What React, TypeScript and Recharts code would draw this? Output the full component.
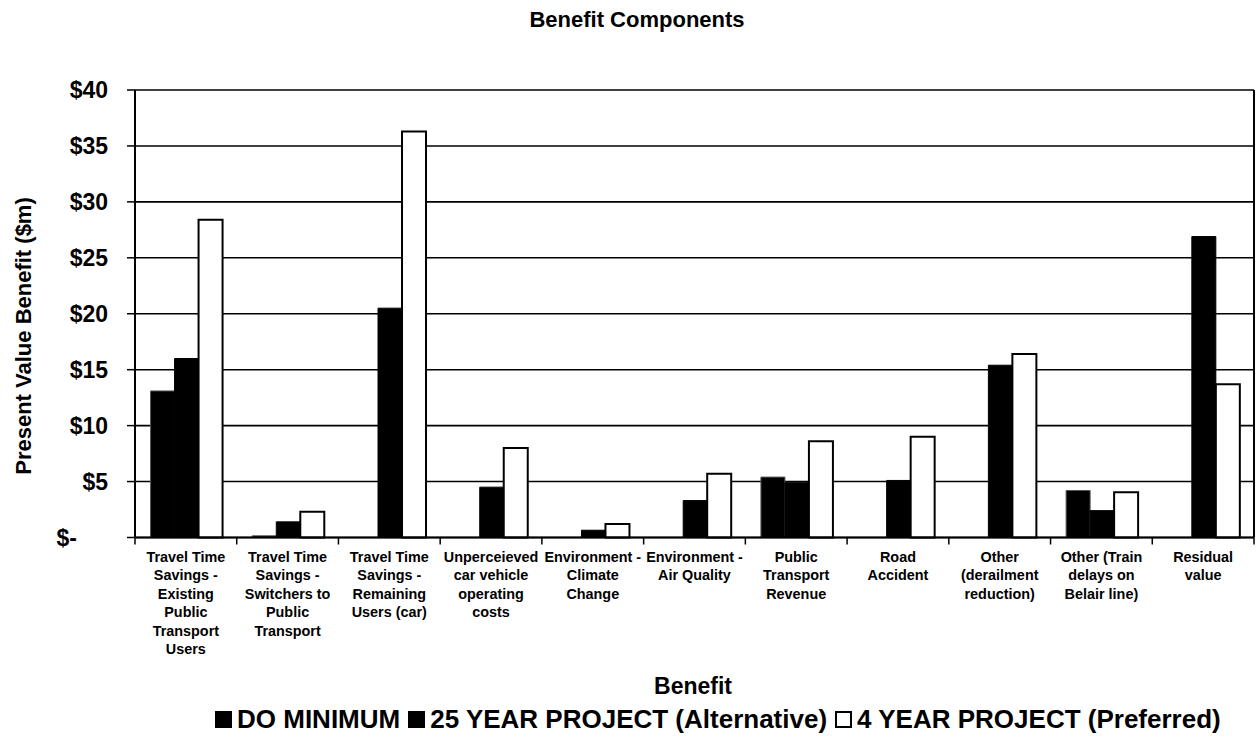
import React from 'react';
import { BarChart, Bar, XAxis, YAxis, CartesianGrid } from 'recharts';

const categories: string[][] = [
  ['Travel Time', 'Savings -', 'Existing', 'Public', 'Transport', 'Users'],
  ['Travel Time', 'Savings -', 'Switchers to', 'Public', 'Transport'],
  ['Travel Time', 'Savings -', 'Remaining', 'Users (car)'],
  ['Unperceieved', 'car vehicle', 'operating', 'costs'],
  ['Environment -', 'Climate', 'Change'],
  ['Environment -', 'Air Quality'],
  ['Public', 'Transport', 'Revenue'],
  ['Road', 'Accident'],
  ['Other', '(derailment', 'reduction)'],
  ['Other (Train', 'delays on', 'Belair line)'],
  ['Residual', 'value'],
];

const doMinimum = [13.1, 0.15, 0, 0, 0, 0, 5.4, 0, 0, 4.2, 0];
const project25 = [16.0, 1.4, 20.5, 4.5, 0.65, 3.3, 4.9, 5.1, 15.4, 2.4, 26.9];
const project4 = [28.4, 2.3, 36.3, 8.0, 1.2, 5.7, 8.6, 9.0, 16.4, 4.05, 13.7];

const yTicks = [0, 5, 10, 15, 20, 25, 30, 35, 40];

const seriesNames = ['DO MINIMUM', '25 YEAR PROJECT (Alternative)', '4 YEAR PROJECT (Preferred)'];

const data = categories.map((lines, i) => ({
  name: lines.join(' '),
  doMin: doMinimum[i],
  y25: project25[i],
  y4: project4[i],
}));

const W = 1259;
const H = 756;
const PLOT_LEFT = 135;
const PLOT_RIGHT = 1254;
const PLOT_TOP = 90;
const PLOT_BOTTOM = 537.5;
const BAND = (PLOT_RIGHT - PLOT_LEFT) / categories.length;
const FONT = '"Liberation Sans", Arial, sans-serif';

const CategoryTick = (props: any) => {
  const { x, y, index } = props;
  const lines = categories[index] || [];
  const left = x - BAND / 2;
  return (
    <g>
      <line x1={left} y1={y} x2={left} y2={y + 7} stroke="#000" strokeWidth={1.5} />
      {index === categories.length - 1 && (
        <line x1={x + BAND / 2} y1={y} x2={x + BAND / 2} y2={y + 7} stroke="#000" strokeWidth={1.5} />
      )}
      <text textAnchor="middle" fontFamily={FONT} fontWeight="bold" fontSize={14.4} fill="#000">
        {lines.map((l, i) => (
          <tspan key={i} x={x} y={y + 24.5 + i * 18.4}>
            {l}
          </tspan>
        ))}
      </text>
    </g>
  );
};

const ValueTick = (props: any) => {
  const { x, y, payload } = props;
  const v = payload.value;
  return (
    <text
      x={v === 0 ? x - 31 : x}
      y={y}
      dy="0.36em"
      textAnchor="end"
      fontFamily={FONT}
      fontWeight="bold"
      fontSize={23}
      fill="#000"
    >
      {v === 0 ? '$-' : `$${v}`}
    </text>
  );
};

const Swatch = ({ filled }: { filled: boolean }) => (
  <span
    style={{
      display: 'inline-block',
      width: 17,
      height: 17,
      background: filled ? '#000' : '#fff',
      border: '2px solid #000',
      boxSizing: 'border-box',
      marginRight: 5,
      verticalAlign: 'middle',
      position: 'relative',
      top: -2,
    }}
  />
);

const App: React.FC = () => {
  return (
    <div
      style={{
        position: 'absolute',
        left: 0,
        top: 0,
        width: W,
        height: H,
        background: '#fff',
        fontFamily: FONT,
      }}
    >
      <div
        style={{
          position: 'absolute',
          left: 437,
          width: 400,
          top: 7,
          textAlign: 'center',
          fontWeight: 'bold',
          fontSize: 22,
        }}
      >
        Benefit Components
      </div>
      <div
        style={{
          position: 'absolute',
          left: 24,
          top: 336,
          transform: 'translate(-50%, -50%) rotate(-90deg)',
          whiteSpace: 'nowrap',
          fontWeight: 'bold',
          fontSize: 22,
        }}
      >
        Present Value Benefit ($m)
      </div>
      <BarChart
        width={W}
        height={H}
        data={data}
        margin={{ top: PLOT_TOP, right: 0, left: 0, bottom: 0 }}
        barCategoryGap="15.3%"
        barGap={0}
      >
        <CartesianGrid vertical={false} stroke="#000" strokeWidth={1.6} />
        <XAxis
          dataKey="name"
          height={H - PLOT_BOTTOM}
          interval={0}
          tickSize={0}
          tickMargin={0}
          tickLine={false}
          axisLine={{ stroke: '#000', strokeWidth: 2 }}
          tick={<CategoryTick />}
        />
        <YAxis
          width={PLOT_LEFT}
          domain={[0, 40]}
          ticks={yTicks}
          tickSize={8}
          tickMargin={19}
          tickLine={{ stroke: '#000', strokeWidth: 1.5 }}
          axisLine={{ stroke: '#000', strokeWidth: 2 }}
          tick={<ValueTick />}
        />
        <YAxis
          yAxisId="r"
          orientation="right"
          width={W - PLOT_RIGHT}
          domain={[0, 40]}
          ticks={yTicks}
          tick={false}
          tickLine={false}
          axisLine={{ stroke: '#000', strokeWidth: 2 }}
        />
        <Bar dataKey="doMin" name={seriesNames[0]} fill="#000" stroke="#555" strokeWidth={1} isAnimationActive={false} />
        <Bar dataKey="y25" name={seriesNames[1]} fill="#000" stroke="#000" strokeWidth={1} isAnimationActive={false} />
        <Bar dataKey="y4" name={seriesNames[2]} fill="#fff" stroke="#000" strokeWidth={2} isAnimationActive={false} />
      </BarChart>
      <div
        style={{
          position: 'absolute',
          left: 693 - 100,
          width: 200,
          top: 673,
          textAlign: 'center',
          fontWeight: 'bold',
          fontSize: 23,
        }}
      >
        Benefit
      </div>
      <div
        style={{
          position: 'absolute',
          left: 215,
          top: 704,
          whiteSpace: 'nowrap',
          fontWeight: 'bold',
          fontSize: 26,
        }}
      >
        {seriesNames.map((n, i) => (
          <span key={n} style={{ marginRight: 8 }}>
            <Swatch filled={i < 2} />
            {n}
          </span>
        ))}
      </div>
    </div>
  );
};

export default App;
